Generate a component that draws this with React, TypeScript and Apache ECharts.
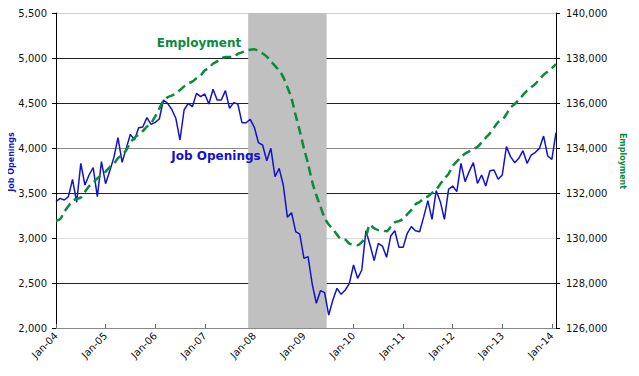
import React, { useEffect, useRef } from "react";
import * as echarts from "echarts";

const years = ["04", "05", "06", "07", "08", "09", "10", "11", "12", "13", "14"];
const monthNames = ["Jan", "Feb", "Mar", "Apr", "May", "Jun", "Jul", "Aug", "Sep", "Oct", "Nov", "Dec"];

const jobOpenings = [
  3404, 3440, 3422, 3459, 3652, 3397, 3830, 3589, 3700, 3781, 3459, 3848,
  3603, 3744, 3893, 4115, 3841, 3996, 4152, 4089, 4226, 4233, 4337, 4263,
  4285, 4322, 4533, 4496, 4430, 4330, 4089, 4422, 4496, 4459, 4607, 4570,
  4600, 4489, 4652, 4533, 4533, 4637, 4441, 4504, 4489, 4281, 4281, 4319,
  4230, 4059, 4033, 3859, 3996, 3681, 3774, 3589, 3230, 3281, 3070, 3044,
  2774, 2793, 2489, 2274, 2415, 2393, 2144, 2311, 2441, 2374, 2422, 2496,
  2700, 2552, 2644, 3081, 2922, 2748, 2941, 2911, 2785, 3022, 3081, 2896,
  2896, 3052, 3126, 3081, 3070, 3237, 3415, 3207, 3526, 3404, 3207, 3541,
  3578, 3515, 3830, 3626, 3740, 3837, 3607, 3700, 3578, 3748, 3756, 3652,
  3700, 4015, 3904, 3837, 3885, 3970, 3830, 3922, 3952, 3996, 4133, 3911,
  3874, 4170,
];

const employment = [
  130770, 130840, 131160, 131410, 131650, 131740, 131800, 132050, 132300, 132450, 132650, 132800,
  132950, 133150, 133300, 133550, 133700, 133900, 134250, 134450, 134600, 134750, 134950, 135100,
  135400, 135750, 136100, 136250, 136330, 136420, 136580, 136740, 136880, 136950, 137100, 137220,
  137450, 137560, 137750, 137850, 137980, 138050, 138050, 138050, 138180, 138250, 138330, 138370,
  138390, 138300, 138200, 138060, 137850, 137650, 137450, 137150, 136700, 136200, 135450, 134750,
  133980, 133300, 132500, 131900, 131400, 130900, 130600, 130400, 130150, 129950, 129930, 129750,
  129720, 129680, 129820, 130050, 130600, 130430, 130350, 130330, 130300, 130500, 130700, 130750,
  130850, 131050, 131250, 131500, 131600, 131750, 131850, 132000, 132150, 132400, 132650, 132850,
  133200, 133400, 133600, 133750, 133850, 133950, 134050, 134250, 134450, 134650, 134900, 135150,
  135250, 135500, 135800, 135950, 136150, 136350, 136550, 136700, 136850, 137050, 137250, 137400,
  137550, 137730,
];

const recessionStart = "Dec-07";
const recessionEnd = "Jun-09";

const months: string[] = [];
years.forEach((y) => monthNames.forEach((m) => months.push(`${m}-${y}`)));

const FONT = "DejaVu Sans";
const BLUE = "#1212cc";
const GREEN = "#0b8a3c";

export default function App() {
  const ref = useRef<HTMLDivElement>(null);
  useEffect(() => {
    if (!ref.current) return;
    const chart = echarts.init(ref.current, undefined, { renderer: "svg" });
    const n = jobOpenings.length;
    const rs = months.indexOf(recessionStart) - 0.5;
    const re = months.indexOf(recessionEnd) + 0.5;
    const fmt = (v: number) => v.toLocaleString("en-US");
    chart.setOption({
      animation: false,
      grid: { left: 56, right: 83, top: 13, bottom: 48 },
      xAxis: {
        type: "value",
        min: 0,
        max: n - 1,
        interval: 12,
        axisLine: { show: true, lineStyle: { color: "#888", width: 1 } },
        axisTick: { show: true, inside: true, length: 4, lineStyle: { color: "#666" } },
        splitLine: { show: false },
        axisLabel: {
          rotate: 45,
          fontFamily: FONT,
          fontSize: 10,
          color: "#111",
          margin: 6,
          formatter: (v: number) => months[v] ?? "",
        },
      },
      yAxis: [
        {
          type: "value",
          min: 2000,
          max: 5500,
          interval: 500,
          position: "left",
          axisLine: { show: true, lineStyle: { color: "#000", width: 1 } },
          axisTick: { show: true, length: 4, lineStyle: { color: "#000" } },
          axisLabel: { fontFamily: FONT, fontSize: 10, color: "#111", margin: 9, formatter: fmt },
          splitLine: {
            show: true,
            lineStyle: {
              width: 1,
              color: ["#888", "#222", "#dcdcdc", "#222", "#888", "#222", "#222", "#cfcfcf"],
            },
          },
        },
        {
          type: "value",
          min: 126000,
          max: 140000,
          interval: 2000,
          position: "right",
          axisLine: { show: true, lineStyle: { color: "#000", width: 1 } },
          axisTick: { show: true, length: 4, lineStyle: { color: "#000" } },
          axisLabel: { fontFamily: FONT, fontSize: 10, color: "#111", margin: 10, formatter: fmt },
          splitLine: { show: false },
        },
      ],
      series: [
        {
          type: "line",
          name: "recession",
          z: -1,
          yAxisIndex: 0,
          data: jobOpenings.map((v, i) => [i, v]),
          symbol: "none",
          silent: true,
          lineStyle: { opacity: 0 },
          markArea: {
            silent: true,
            itemStyle: { color: "#c0c0c0" },
            data: [[{ xAxis: rs }, { xAxis: re }]],
          },
        },
        {
          type: "line",
          name: "Job Openings",
          yAxisIndex: 0,
          data: jobOpenings.map((v, i) => [i, v]),
          symbol: "none",
          lineStyle: { color: BLUE, width: 1.5 },
        },
        {
          type: "line",
          name: "Employment",
          yAxisIndex: 1,
          data: employment.map((v, i) => [i, v]),
          symbol: "none",
          smooth: 0.3,
          lineStyle: { color: GREEN, width: 2.5, type: [9, 5] },
        },
      ],
      graphic: [
        {
          type: "text",
          z: 100,
          x: 199,
          y: 43,
          style: {
            text: "Employment",
            fontFamily: FONT,
            fontWeight: "bold",
            fontSize: 12,
            fill: GREEN,
            align: "center",
            verticalAlign: "middle",
          },
        },
        {
          type: "text",
          z: 100,
          x: 216,
          y: 156,
          style: {
            text: "Job Openings",
            fontFamily: FONT,
            fontWeight: "bold",
            fontSize: 12,
            fill: BLUE,
            align: "center",
            verticalAlign: "middle",
          },
        },
        {
          type: "text",
          z: 100,
          x: 11,
          y: 162,
          rotation: Math.PI / 2,
          style: {
            text: "Job Openings",
            fontFamily: FONT,
            fontWeight: "bold",
            fontSize: 8,
            fill: BLUE,
            align: "center",
            verticalAlign: "middle",
          },
        },
        {
          type: "text",
          z: 100,
          x: 622,
          y: 161,
          rotation: -Math.PI / 2,
          style: {
            text: "Employment",
            fontFamily: FONT,
            fontWeight: "bold",
            fontSize: 8,
            fill: GREEN,
            align: "center",
            verticalAlign: "middle",
          },
        },
      ],
    });
    return () => chart.dispose();
  }, []);
  return <div ref={ref} style={{ width: 639, height: 376, margin: -8 }} />;
}
